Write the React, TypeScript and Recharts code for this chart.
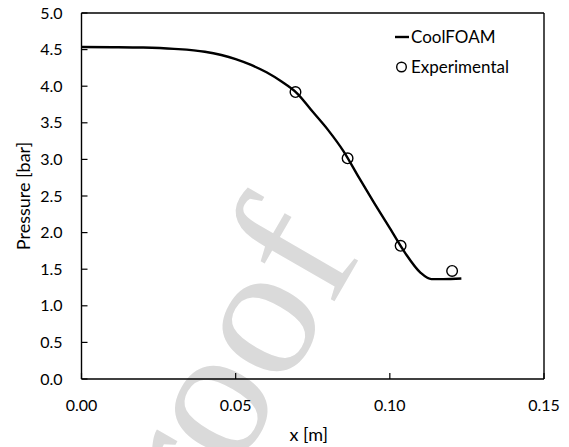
import React from 'react';
import { ComposedChart, Line, Scatter, XAxis, YAxis, ReferenceLine } from 'recharts';

// CoolFOAM simulated pressure profile
const simX = [0, 0.01, 0.02, 0.03, 0.04, 0.05, 0.055, 0.06, 0.065, 0.07, 0.075, 0.08, 0.085, 0.09, 0.095, 0.1, 0.105, 0.11, 0.1135, 0.1173, 0.1232];
const simP = [4.535, 4.533, 4.528, 4.51, 4.47, 4.37, 4.29, 4.19, 4.06, 3.9, 3.65, 3.4, 3.11, 2.75, 2.4, 2.06, 1.72, 1.45, 1.364, 1.364, 1.373];

// Experimental measurements
const expX = [0.0694, 0.0863, 0.1035, 0.1202];
const expP = [3.92, 3.015, 1.82, 1.477];

const xTicks = [0, 0.05, 0.1, 0.15];
const yTicks = [0, 0.5, 1, 1.5, 2, 2.5, 3, 3.5, 4, 4.5, 5];

const simData = simX.map((x, i) => ({ x, p: simP[i] }));
const expData = expX.map((x, i) => ({ x, p: expP[i] }));

const FONT = 'Lato, "Open Sans", sans-serif';

const LegendBox = () => (
  <div style={{ fontFamily: FONT, fontSize: 17, color: '#000', lineHeight: '30px' }}>
    <div style={{ display: 'flex', alignItems: 'center', height: 30 }}>
      <svg width={19} height={30}><line x1={3} x2={17} y1={15} y2={15} stroke="#000" strokeWidth={2.4} /></svg>
      <span>CoolFOAM</span>
    </div>
    <div style={{ display: 'flex', alignItems: 'center', height: 30 }}>
      <svg width={19} height={30}><circle cx={9.5} cy={15} r={4.8} fill="none" stroke="#000" strokeWidth={1.4} /></svg>
      <span>Experimental</span>
    </div>
  </div>
);

const YLabel = (props: any) => {
  const vb = props.viewBox || {};
  const cx = vb.x + 22.5;
  const cy = vb.y + vb.height / 2;
  return (
    <text x={cx} y={cy} transform={`rotate(-90 ${cx} ${cy})`} textAnchor="middle" dominantBaseline="central" fontFamily={FONT} fontSize={18} fill="#000">
      Pressure [bar]
    </text>
  );
};

const XLabel = (props: any) => {
  const vb = props.viewBox || {};
  const cx = vb.x + vb.width / 2 - 4;
  const cy = vb.y + 55;
  return (
    <text x={cx} y={cy} textAnchor="middle" dominantBaseline="central" fontFamily={FONT} fontSize={18} fill="#000">
      x [m]
    </text>
  );
};

export default function App() {
  return (
    <div style={{ position: 'absolute', left: 0, top: 0, width: 569, height: 447, background: '#fff', overflow: 'hidden' }}>
      <svg width={569} height={447} style={{ position: 'absolute', left: 0, top: 0 }}>
        <text x={151} y={619} transform="rotate(-60 151 619)" fontFamily='"Liberation Serif", serif' fontSize={190} fill="#dadada">Proof</text>
      </svg>
      <div style={{ position: 'absolute', left: 0, top: 0 }}>
        <ComposedChart width={569} height={447} margin={{ top: 13, right: 25, bottom: 8, left: 0 }}>
          <XAxis
            dataKey="x"
            type="number"
            domain={[0, 0.15]}
            ticks={xTicks}
            tickFormatter={(v: number) => v.toFixed(2)}
            height={60}
            tickSize={-6}
            tickMargin={27}
            axisLine={{ stroke: '#000', strokeWidth: 1.4 }}
            tickLine={{ stroke: '#000', strokeWidth: 1.2 }}
            tick={{ fill: '#000', fontSize: 16, fontFamily: FONT }}
            label={<XLabel />}
            allowDataOverflow
          />
          <YAxis
            dataKey="p"
            type="number"
            domain={[0, 5]}
            ticks={yTicks}
            tickFormatter={(v: number) => v.toFixed(1)}
            width={81.5}
            tickSize={-6}
            tickMargin={25}
            axisLine={{ stroke: '#000', strokeWidth: 1.4 }}
            tickLine={{ stroke: '#000', strokeWidth: 1.2 }}
            tick={{ fill: '#000', fontSize: 16, fontFamily: FONT }}
            label={<YLabel />}
            allowDataOverflow
          />
          <ReferenceLine y={5} stroke="#000" strokeWidth={1.4} ifOverflow="visible" />
          <ReferenceLine x={0.15} stroke="#000" strokeWidth={1.4} ifOverflow="visible" />
          <Line
            data={simData}
            dataKey="p"
            type="monotone"
            stroke="#000"
            strokeWidth={2.4}
            dot={false}
            activeDot={false}
            isAnimationActive={false}
            name="CoolFOAM"
          />
          <Scatter
            data={expData}
            dataKey="p"
            fill="none"
            stroke="#000"
            strokeWidth={1.4}
            shape={(p: any) => <circle cx={p.cx} cy={p.cy} r={5.3} fill="none" stroke="#000" strokeWidth={1.4} />}
            isAnimationActive={false}
            name="Experimental"
          />
        </ComposedChart>
      </div>
      <div style={{ position: 'absolute', left: 392, top: 22 }}>
        <LegendBox />
      </div>
    </div>
  );
}
